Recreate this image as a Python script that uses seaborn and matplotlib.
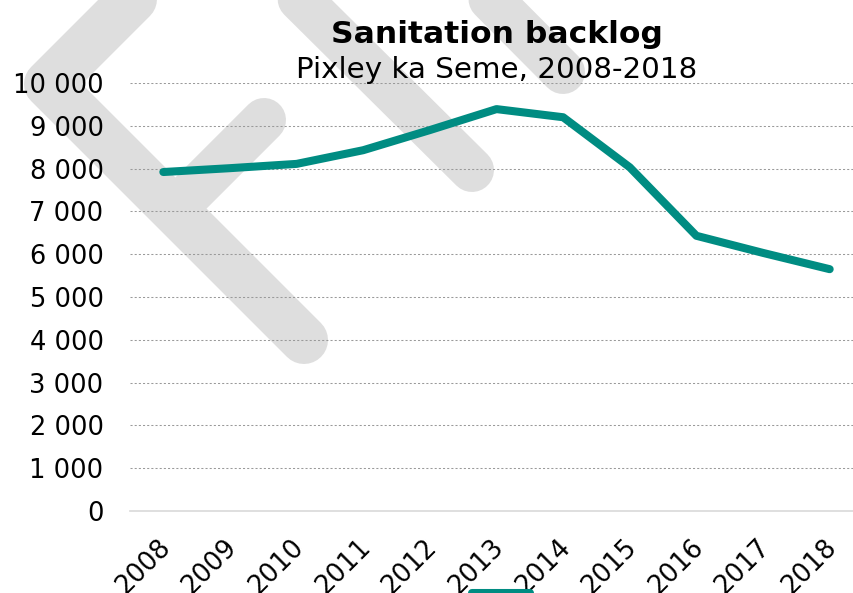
import matplotlib
matplotlib.use("Agg")
import matplotlib.pyplot as plt
import matplotlib.transforms as mtransforms
from matplotlib.lines import Line2D
import seaborn as sns
import pandas as pd

# Sanitation backlog (households), Pixley ka Seme district
years = ["2008", "2009", "2010", "2011", "2012", "2013",
         "2014", "2015", "2016", "2017", "2018"]
backlog = [7920, 8010, 8110, 8430, 8900, 9390, 9200, 8030, 6430, 6030, 5650]
y_ticks = [0, 1000, 2000, 3000, 4000, 5000, 6000, 7000, 8000, 9000, 10000]
y_labels = [f"{v:,}".replace(",", " ") for v in y_ticks]

title = "Sanitation backlog"
subtitle = "Pixley ka Seme, 2008-2018"
series_name = "Pixley ka Seme"

LINE = "#008C82"
GRID = "#9a9a9a"
AXIS = "#d9d9d9"
MARK = "#dedede"

sns.set_theme(style="white")
plt.rcParams["font.family"] = ["DejaVu Sans"]

W, H = 854, 593
fig = plt.figure(figsize=(W / 100, H / 100), dpi=100)
fig.patch.set_facecolor("white")


def px(x, y):
    return x / W, 1 - y / H


# faint logo strokes behind the chart
def stroke(points, width):
    xs, ys = zip(*[px(x, y) for x, y in points])
    ln = Line2D(xs, ys, transform=fig.transFigure, color=MARK,
                linewidth=width * 0.72, solid_capstyle="round",
                solid_joinstyle="round", zorder=0)
    fig.add_artist(ln)


stroke([(212, -80), (48, 84), (304, 340)], 48)
stroke([(264, 120), (175, 209)], 44)
stroke([(220, -80), (472, 170)], 44)
stroke([(412, -80), (563, 72)], 44)

x0, x1 = px(130, 0)[0], px(863, 0)[0]
y_bot, y_top = px(0, 511)[1], px(0, 83)[1]
ax = fig.add_axes([x0, y_bot, x1 - x0, y_top - y_bot])
ax.patch.set_alpha(0)
ax.set_zorder(1)

df = pd.DataFrame({"year": years, "backlog": backlog, "area": series_name})
sns.lineplot(data=df, x="year", y="backlog", hue="area", palette=[LINE],
             sort=False, linewidth=5.8, ax=ax, zorder=3)
for ln in ax.lines:
    ln.set_solid_capstyle("round")
    ln.set_solid_joinstyle("round")

ax.set_xlim(-0.5, len(years) - 0.5)
ax.set_ylim(0, 10000)
ax.set_xlabel("")
ax.set_ylabel("")

ax.set_yticks(y_ticks)
ax.set_yticklabels(y_labels)
ax.yaxis.grid(True, color=GRID, linestyle=(0, (2, 2)), linewidth=0.75)
ax.set_axisbelow(True)
ax.tick_params(axis="y", length=0, pad=19, labelsize=18.5, labelcolor="black")

ax.set_xticks(range(len(years)))
ax.set_xticklabels(years)
ax.set_xticks([i - 0.5 for i in range(len(years) + 1)], minor=True)
ax.tick_params(axis="x", which="major", length=0, pad=17, labelsize=18.5,
               labelcolor="black")
ax.tick_params(axis="x", which="minor", direction="inout", length=13,
               width=1.2, color=AXIS)
shift = mtransforms.ScaledTranslation(-6 / 100, 0, fig.dpi_scale_trans)
for lab in ax.get_xticklabels():
    lab.set_rotation(45)
    lab.set_rotation_mode("anchor")
    lab.set_ha("right")
    lab.set_va("top")
    lab.set_transform(lab.get_transform() + shift)

for side in ["left", "right", "top"]:
    ax.spines[side].set_visible(False)
ax.spines["bottom"].set_color(AXIS)
ax.spines["bottom"].set_linewidth(1.2)

cx = (x0 + x1) / 2
fig.text(cx, px(0, 43)[1], title, ha="center", va="baseline",
         fontsize=22.6, fontweight="bold", color="black")
fig.text(cx, px(0, 78)[1], subtitle, ha="center", va="baseline",
         fontsize=21.2, color="black")

# legend key sits at the very bottom edge; its entry carries no caption
leg = ax.legend(handles=ax.lines[:1], labels=[""], loc="center left",
                bbox_to_anchor=px(472, 595), bbox_transform=fig.transFigure,
                frameon=False, borderpad=0, borderaxespad=0,
                handlelength=2.26, handletextpad=0, fontsize=18.5)
for h in leg.get_lines():
    h.set_linewidth(5.8)

fig.savefig("out.png", dpi=100)
